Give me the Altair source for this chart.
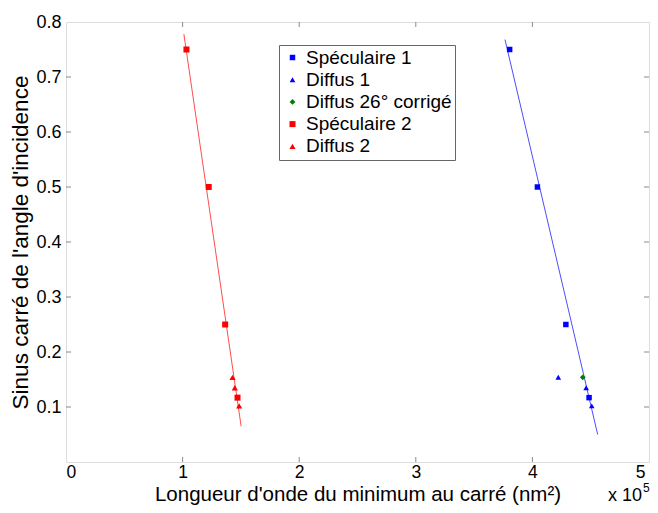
import altair as alt
import pandas as pd

# ---- data (x in nm^2, y = sin^2 of incidence angle) ----
names = ["Spéculaire 1", "Diffus 1", "Diffus 26° corrigé", "Spéculaire 2", "Diffus 2"]
colors = ["#0000ff", "#0000ff", "#008000", "#ff0000", "#ff0000"]
shapes = ["square", "triangle-up", "diamond", "square", "triangle-up"]
sizes = [30, 38, 36, 30, 38]

spec1_x = [380500, 404300, 428700, 448600]
spec1_y = [0.75, 0.50, 0.25, 0.117]
diff1_x = [422200, 446100, 450900]
diff1_y = [0.154, 0.135, 0.102]
diff26_x = [443200]
diff26_y = [0.154]
spec2_x = [103300, 122400, 136500, 147100]
spec2_y = [0.75, 0.50, 0.25, 0.117]
diff2_x = [142800, 144800, 148500]
diff2_y = [0.154, 0.135, 0.102]

fit1_x = [376500, 456000]
fit1_y = [0.768, 0.050]
fit2_x = [101100, 150200]
fit2_y = [0.778, 0.065]

x_ticks = [0, 100000, 200000, 300000, 400000, 500000]
y_ticks = [0.1, 0.2, 0.3, 0.4, 0.5, 0.6, 0.7, 0.8]

W, H = 583, 440
FONT = "Liberation Sans"
FRAME = "#8a8a8a"

rows = []
for nm, xs, ys in [(names[0], spec1_x, spec1_y), (names[1], diff1_x, diff1_y),
                   (names[2], diff26_x, diff26_y), (names[3], spec2_x, spec2_y),
                   (names[4], diff2_x, diff2_y)]:
    for a, b in zip(xs, ys):
        rows.append({"series": nm, "x": a, "y": b})
pts = pd.DataFrame(rows)

xscale = alt.Scale(domain=[0, 500000], nice=False, zero=False)
yscale = alt.Scale(domain=[0, 0.8], nice=False, zero=False)

legend = alt.Legend(title=None, orient="none", legendX=213, legendY=23,
                    labelFont=FONT, labelFontSize=19, labelColor="black",
                    symbolSize=22, symbolStrokeWidth=0, padding=3, rowPadding=2.2,
                    symbolOffset=1, labelOffset=4,
                    strokeColor="#666666", fillColor="white", cornerRadius=0)

points = alt.Chart(pts).mark_point(filled=True, opacity=1).encode(
    x=alt.X("x:Q", scale=xscale,
            axis=alt.Axis(values=x_ticks, labelExpr="datum.value / 100000",
                          labelOffset=alt.ExprRef(expr="datum.value == 500000 ? -4 : 0"),
                          title="Longueur d'onde du minimum au carré (nm²)",
                          ticks=False, domain=False, grid=False,
                          labelFont=FONT, labelFontSize=17.5, labelColor="black",
                          labelPadding=1, titleFont=FONT, titleFontSize=20.5,
                          titleFontWeight="normal", titleColor="black",
                          titleBaseline="alphabetic", titleY=38)),
    y=alt.Y("y:Q", scale=yscale,
            axis=alt.Axis(values=y_ticks, format=".1f",
                          title="Sinus carré de l'angle d'incidence",
                          ticks=False, domain=False, grid=False,
                          labelFont=FONT, labelFontSize=18, labelColor="black",
                          labelPadding=5, titleFont=FONT, titleFontSize=22.5,
                          titleFontWeight="normal", titleColor="black", titlePadding=3)),
    color=alt.Color("series:N", scale=alt.Scale(domain=names, range=colors), legend=legend),
    shape=alt.Shape("series:N", scale=alt.Scale(domain=names, range=shapes), legend=legend),
    size=alt.Size("series:N", scale=alt.Scale(domain=names, range=sizes), legend=None),
)

line1 = alt.Chart(pd.DataFrame({"x": fit1_x, "y": fit1_y})).mark_line(
    color="#4d4dff", strokeWidth=1).encode(x=alt.X("x:Q", scale=xscale), y=alt.Y("y:Q", scale=yscale))
line2 = alt.Chart(pd.DataFrame({"x": fit2_x, "y": fit2_y})).mark_line(
    color="#ff4d4d", strokeWidth=1).encode(x=alt.X("x:Q", scale=xscale), y=alt.Y("y:Q", scale=yscale))

xt = pd.DataFrame({"t": x_ticks[1:-1]})
yt = pd.DataFrame({"t": y_ticks[:-1]})
tb = alt.Chart(xt).mark_rule(color=FRAME, strokeWidth=1).encode(
    x=alt.X("t:Q", scale=xscale), y=alt.value(H), y2=alt.value(H - 5))
tt = alt.Chart(xt).mark_rule(color=FRAME, strokeWidth=1).encode(
    x=alt.X("t:Q", scale=xscale), y=alt.value(0), y2=alt.value(5))
tl = alt.Chart(yt).mark_rule(color=FRAME, strokeWidth=1).encode(
    y=alt.Y("t:Q", scale=yscale), x=alt.value(0), x2=alt.value(5))
tr = alt.Chart(yt).mark_rule(color=FRAME, strokeWidth=1).encode(
    y=alt.Y("t:Q", scale=yscale), x=alt.value(W), x2=alt.value(W - 5))

exp_txt = alt.Chart(pd.DataFrame({"a": [0]})).mark_text(
    font=FONT, fontSize=18, align="right", baseline="alphabetic", color="black").encode(
    x=alt.value(W - 7), y=alt.value(H + 39), text=alt.value("x 10"))
exp_sup = alt.Chart(pd.DataFrame({"a": [0]})).mark_text(
    font=FONT, fontSize=12, align="left", baseline="alphabetic", color="black").encode(
    x=alt.value(W - 6), y=alt.value(H + 30), text=alt.value("5"))

chart = alt.layer(tb, tt, tl, tr, line2, line1, points, exp_txt, exp_sup).properties(
    width=W, height=H,
    autosize=alt.AutoSizeParams(type="none"),
    padding={"left": 58, "top": 14, "right": 1, "bottom": 43},
).configure_view(stroke=FRAME, strokeWidth=1).configure(background="white")

chart.save("out.html", embed_options={"renderer": "svg", "actions": False})
